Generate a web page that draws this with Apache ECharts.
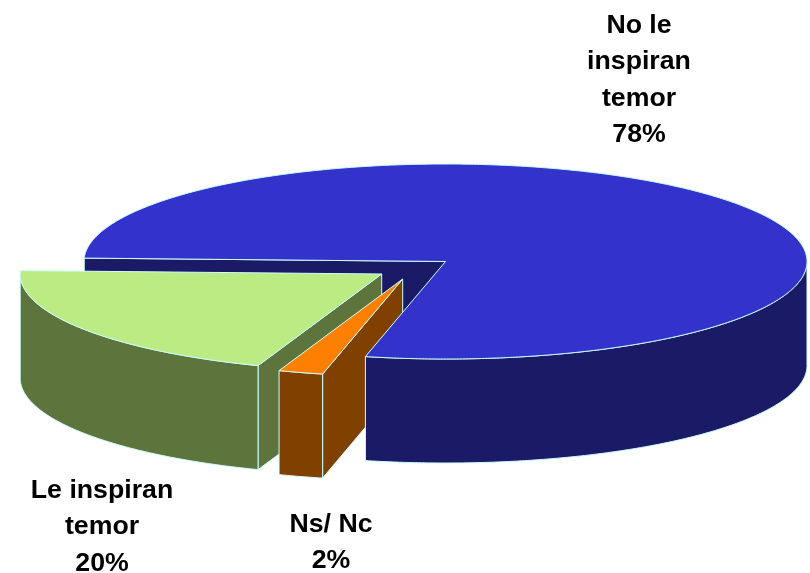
<!DOCTYPE html>
<html>
<head>
<meta charset="utf-8">
<style>html,body{margin:0;padding:0;background:#fff}#c{width:810px;height:573px}</style>
<script src="https://cdn.jsdelivr.net/npm/echarts@6/dist/echarts.min.js"></script>
</head>
<body>
<div id="c"></div>
<script>
// Data
var categories = ['No le\ninspiran\ntemor', 'Ns/ Nc', 'Le inspiran\ntemor'];
var percents = [78, 2, 20];

// Styles
var topColors = ['#3333CC', '#FF8000', '#BBEB82'];
var sideColors = ['#1A1A66', '#804000', '#5D743C'];
var edgeColor = '#CCFFFF';

// Layout of the tilted pie
var firstAngle = 182;            // degrees, clockwise on screen from +x
var radiusX = 361.5, radiusY = 97.5, depth = 104;
var sliceCenters = [[445.5, 261.5], [402.7, 279], [381.7, 274]];
var labelAnchors = [[639, 7], [331, 506], [102, 472]];
var layerBase = [7, 3, 0];

function point(c, deg, dy) {
  var r = deg * Math.PI / 180;
  return [c[0] + radiusX * Math.cos(r), c[1] + radiusY * Math.sin(r) + (dy || 0)];
}
function arc(c, from, to, dy) {
  var pts = [], n = Math.max(2, Math.ceil(Math.abs(to - from) * 2));
  for (var i = 0; i <= n; i++) pts.push(point(c, from + (to - from) * i / n, dy));
  return pts;
}
function poly(points, fill, z) {
  return {
    type: 'polygon', z2: z, shape: { points: points },
    style: { fill: fill, stroke: edgeColor, lineWidth: 1, lineJoin: 'round' }
  };
}
function sum(arr, n) {
  var s = 0;
  for (var i = 0; i < n; i++) s += arr[i];
  return s;
}

function renderSlice(params, api) {
  var i = params.dataIndex;
  var total = sum(percents, percents.length);
  var a0 = firstAngle + 360 * sum(percents, i) / total;
  var a1 = a0 + 360 * api.value(0) / total;
  var c = sliceCenters[i];
  var z = layerBase[i];
  var cBottom = [c[0], c[1] + depth];
  var kids = [];

  // Flat cut faces
  var p0 = point(c, a0);
  if (i === 0) {
    // cut face at the start of the big slice, behind everything
    kids.push(poly([p0, c, cBottom, [p0[0], p0[1] + depth]], sideColors[i], 0));
  } else {
    // cut face at the start of the exploded slices, facing the viewer
    kids.push(poly([c, p0, [p0[0], p0[1] + depth], cBottom], sideColors[i], z + 1));
  }

  // Outer rim, only the part facing the viewer
  var lo = Math.max(a0, 360), hi = Math.min(a1, 540);
  if (hi > lo) {
    var upper = arc(c, lo, hi, 0);
    var lower = arc(c, hi, lo, depth);
    kids.push(poly(upper.concat(lower), sideColors[i], z + 2));
  }

  // Top face
  kids.push(poly([c].concat(arc(c, a0, a1, 0)), topColors[i], z + 3));

  // Label
  var a = labelAnchors[i];
  kids.push({
    type: 'text', z2: 30,
    style: {
      x: a[0], y: a[1],
      text: categories[i] + '\n' + api.value(0) + '%',
      fill: '#000',
      font: 'bold 26.7px "Liberation Sans", Arial, sans-serif',
      lineHeight: 36.5,
      align: 'center',
      verticalAlign: 'top'
    }
  });
  return { type: 'group', children: kids };
}

var chart = echarts.init(document.getElementById('c'), null, { renderer: 'canvas' });
chart.setOption({
  animation: false,
  backgroundColor: '#ffffff',
  series: [{
    type: 'custom',
    coordinateSystem: 'none',
    silent: true,
    clip: false,
    renderItem: renderSlice,
    data: percents.map(function (v) { return [v]; })
  }]
});
</script>
</body>
</html>
